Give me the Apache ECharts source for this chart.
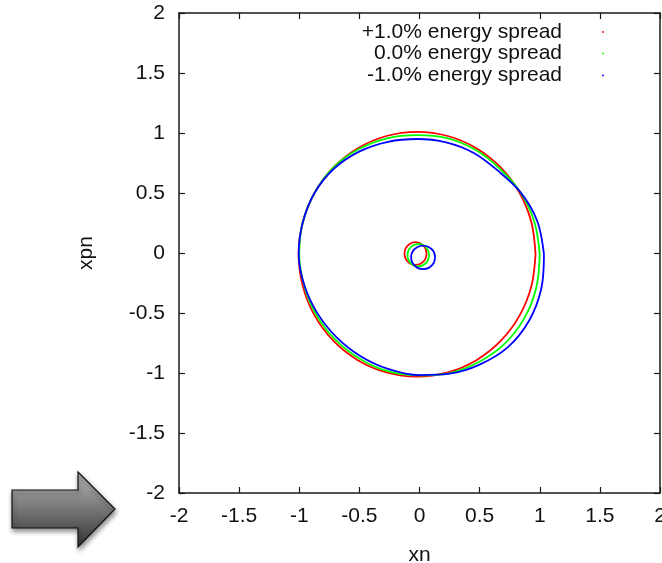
<!DOCTYPE html>
<html>
<head>
<meta charset="utf-8">
<script src="https://cdn.jsdelivr.net/npm/echarts@6/dist/echarts.min.js"></script>
<style>html,body{margin:0;padding:0;background:#fff}#c{width:662px;height:563px}</style>
</head>
<body>
<div id="c"></div>
<script>
// ---- data ----
const tickValues = [-2, -1.5, -1, -0.5, 0, 0.5, 1, 1.5, 2];
const seriesNames = ['+1.0% energy spread', '0.0% energy spread', '-1.0% energy spread'];
const seriesColors = ['#ff0000', '#00ff00', '#0000ff'];

// large orbits (xn, xpn), sampled around the loop
const redOuter = [[0.965,-0.01],[0.931,0.254],[0.833,0.5],[0.677,0.711],[0.473,0.873],[0.235,0.975],[-0.02,1.01],[-0.275,0.975],[-0.513,0.873],[-0.717,0.711],[-0.873,0.5],[-0.971,0.254],[-1.005,-0.01],[-0.971,-0.274],[-0.873,-0.52],[-0.717,-0.731],[-0.513,-0.893],[-0.275,-0.995],[-0.02,-1.03],[0.235,-0.995],[0.473,-0.893],[0.677,-0.731],[0.833,-0.52],[0.931,-0.274]];
const greenOuter = [[1.0,-0.01],[0.955,0.26],[0.84,0.504],[0.668,0.702],[0.465,0.86],[0.23,0.958],[-0.02,0.983],[-0.27,0.956],[-0.508,0.864],[-0.717,0.711],[-0.873,0.5],[-0.971,0.254],[-1.0,-0.01],[-0.959,-0.271],[-0.86,-0.512],[-0.704,-0.718],[-0.504,-0.877],[-0.272,-0.983],[-0.01,-1.02],[0.24,-1.003],[0.486,-0.912],[0.705,-0.759],[0.872,-0.543],[0.972,-0.285]];
const blueOuter = [[1.035,-0.01],[0.979,0.267],[0.841,0.505],[0.652,0.686],[0.451,0.834],[0.221,0.922],[-0.02,0.95],[-0.262,0.927],[-0.498,0.847],[-0.71,0.704],[-0.873,0.5],[-0.971,0.254],[-1.005,-0.01],[-0.957,-0.27],[-0.847,-0.505],[-0.689,-0.703],[-0.493,-0.858],[-0.262,-0.966],[0.0,-1.018],[0.25,-1.006],[0.5,-0.93],[0.733,-0.787],[0.911,-0.565],[1.013,-0.296]];

// small orbits near the origin
const redInner = [[0.059,-0.005],[0.047,0.043],[0.013,0.077],[-0.033,0.09],[-0.079,0.077],[-0.113,0.043],[-0.125,-0.005],[-0.113,-0.053],[-0.079,-0.087],[-0.033,-0.10],[0.013,-0.087],[0.047,-0.053]];
const greenInner = [[0.08,-0.018],[0.068,0.029],[0.035,0.063],[-0.01,0.075],[-0.055,0.063],[-0.088,0.029],[-0.10,-0.018],[-0.088,-0.065],[-0.055,-0.099],[-0.01,-0.111],[0.035,-0.099],[0.068,-0.065]];
const blueInner = [[0.13,-0.037],[0.117,0.012],[0.08,0.048],[0.03,0.061],[-0.02,0.048],[-0.057,0.012],[-0.07,-0.037],[-0.057,-0.086],[-0.02,-0.122],[0.03,-0.135],[0.08,-0.122],[0.117,-0.086]];

// ---- build chart ----
const FONT = 'Liberation Sans';
const FS = 21;
const closed = a => a.concat([a[0]]);
const curves = [
  [redOuter, redInner],
  [greenOuter, greenInner],
  [blueOuter, blueInner]
];
const series = [];
curves.forEach((pair, i) => {
  pair.forEach((pts) => {
    series.push({
      name: seriesNames[i],
      type: 'line',
      data: closed(pts),
      smooth: 0.35,
      showSymbol: false,
      symbol: 'none',
      lineStyle: { color: seriesColors[i], width: 1.8 },
      z: 2 + i,
      silent: true
    });
  });
});

const axisLine = { show: true, onZero: false, lineStyle: { color: '#1a1a1a', width: 1.5 } };
const axisTick = { show: true, inside: true, length: 6, lineStyle: { color: '#1a1a1a', width: 1.2 } };
const labelStyle = { fontFamily: FONT, fontSize: FS, color: '#111' };
const mn = tickValues[0], mx = tickValues[tickValues.length - 1], step = tickValues[1] - tickValues[0];

const legendRows = [32, 53.5, 75.5];
const graphic = [];
seriesNames.forEach((n, i) => {
  graphic.push({ type: 'text', x: 562, y: legendRows[i], style: { text: n, fontFamily: FONT, fontSize: FS, fill: '#111', textAlign: 'right', textVerticalAlign: 'middle' } });
  graphic.push({ type: 'circle', x: 603, y: legendRows[i], shape: { r: 0.9 }, style: { fill: seriesColors[i] } });
});
graphic.push({
  type: 'polygon',
  shape: { points: [[12,490],[78,490],[78,472],[115,509],[78,547],[78,528],[12,528]] },
  style: {
    fill: { type: 'linear', x: 0, y: 0, x2: 0, y2: 1, colorStops: [{ offset: 0, color: '#b8b8b8' }, { offset: 1, color: '#333333' }] },
    stroke: '#111', lineWidth: 1.2,
    shadowBlur: 5, shadowColor: 'rgba(0,0,0,0.45)', shadowOffsetX: 1, shadowOffsetY: 3
  }
});

const chart = echarts.init(document.getElementById('c'), null, { renderer: 'canvas' });
chart.setOption({
  animation: false,
  backgroundColor: '#fff',
  grid: { left: 179, right: 2, top: 13, bottom: 70, containLabel: false, outerBoundsMode: 'none' },
  legend: { show: false },
  xAxis: [
    { type: 'value', min: mn, max: mx, interval: step, position: 'bottom',
      name: 'xn', nameLocation: 'middle', nameGap: 52, nameTextStyle: labelStyle,
      axisLine, axisTick, splitLine: { show: false },
      axisLabel: Object.assign({ margin: 13, showMinLabel: true, showMaxLabel: true, hideOverlap: false }, labelStyle) },
    { type: 'value', min: mn, max: mx, interval: step, position: 'top',
      axisLine, axisTick, splitLine: { show: false }, axisLabel: { show: false } }
  ],
  yAxis: [
    { type: 'value', min: mn, max: mx, interval: step, position: 'left',
      name: 'xpn', nameLocation: 'middle', nameGap: 82, nameRotate: 90, nameTextStyle: labelStyle,
      axisLine, axisTick, splitLine: { show: false },
      axisLabel: Object.assign({ margin: 14, showMinLabel: true, showMaxLabel: true, hideOverlap: false }, labelStyle) },
    { type: 'value', min: mn, max: mx, interval: step, position: 'right',
      axisLine, axisTick, splitLine: { show: false }, axisLabel: { show: false } }
  ],
  graphic,
  series
});
</script>
</body>
</html>
